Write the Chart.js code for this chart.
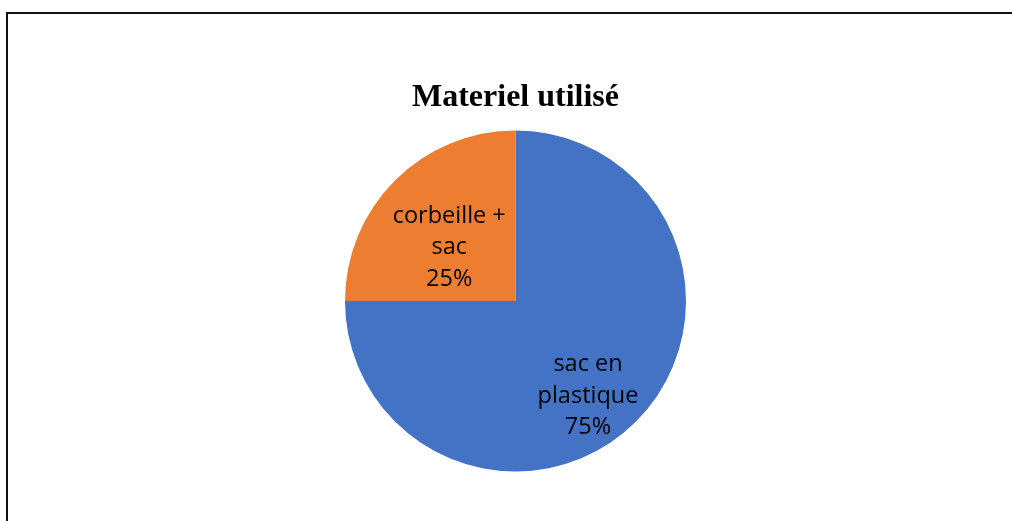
<!DOCTYPE html>
<html>
<head>
<meta charset="utf-8">
<script src="https://cdn.jsdelivr.net/npm/chart.js@4"></script>
<style>
html,body{margin:0;padding:0;background:#fff;}
canvas{display:block;}
</style>
</head>
<body>
<canvas id="c" width="1012" height="521"></canvas>
<script>
const chartTitle = 'Materiel utilisé';
const categories = ['sac en plastique', 'corbeille + sac'];
const labelLines = [['sac en', 'plastique'], ['corbeille +', 'sac']];
const values = [75, 25];
const colors = ['#4472C4', '#ED7D31'];
// label placement along each slice (fraction of radius, angle shift in degrees)
const labelRadius = [0.70, 0.5];
const labelAngleShift = [7.6, -6.0];

const frame = {
  id: 'frame',
  beforeDraw(chart) {
    const ctx = chart.ctx;
    ctx.save();
    ctx.fillStyle = '#fff';
    ctx.fillRect(0, 0, chart.width, chart.height);
    ctx.strokeStyle = '#111';
    ctx.lineWidth = 2;
    ctx.beginPath();
    ctx.moveTo(chart.width, 13);
    ctx.lineTo(7, 13);
    ctx.lineTo(7, chart.height);
    ctx.stroke();
    ctx.restore();
  }
};

const sliceLabels = {
  id: 'sliceLabels',
  afterDatasetsDraw(chart) {
    const ctx = chart.ctx;
    const meta = chart.getDatasetMeta(0);
    const total = values.reduce((a, b) => a + b, 0);
    ctx.save();
    ctx.font = '23.5px "Open Sans"';
    ctx.fillStyle = '#000';
    ctx.textAlign = 'center';
    ctx.textBaseline = 'middle';
    meta.data.forEach((arc, i) => {
      const p = arc.getProps(['x', 'y', 'startAngle', 'endAngle', 'outerRadius'], true);
      const mid = (p.startAngle + p.endAngle) / 2 + labelAngleShift[i] * Math.PI / 180;
      const r = p.outerRadius * labelRadius[i];
      const cx = p.x + Math.cos(mid) * r;
      const cy = p.y + Math.sin(mid) * r;
      const lines = labelLines[i].concat([Math.round(values[i] / total * 100) + '%']);
      const lh = 31.5;
      const top = cy - (lines.length - 1) * lh / 2;
      lines.forEach((t, k) => ctx.fillText(t, cx, top + k * lh));
    });
    ctx.restore();
  }
};

new Chart(document.getElementById('c'), {
  type: 'pie',
  data: {
    labels: categories,
    datasets: [{
      data: values,
      backgroundColor: colors,
      borderWidth: 0
    }]
  },
  options: {
    responsive: false,
    animation: false,
    layout: { padding: { top: 0, bottom: 49.5, left: 19, right: 0 } },
    plugins: {
      legend: { display: false },
      tooltip: { enabled: false },
      title: {
        display: true,
        text: chartTitle,
        color: '#000',
        font: { family: '"Liberation Serif", "Times New Roman", serif', size: 32, weight: 'bold', lineHeight: 1.2 },
        padding: { top: 79, bottom: 13.1 }
      }
    }
  },
  plugins: [frame, sliceLabels]
});
</script>
</body>
</html>
